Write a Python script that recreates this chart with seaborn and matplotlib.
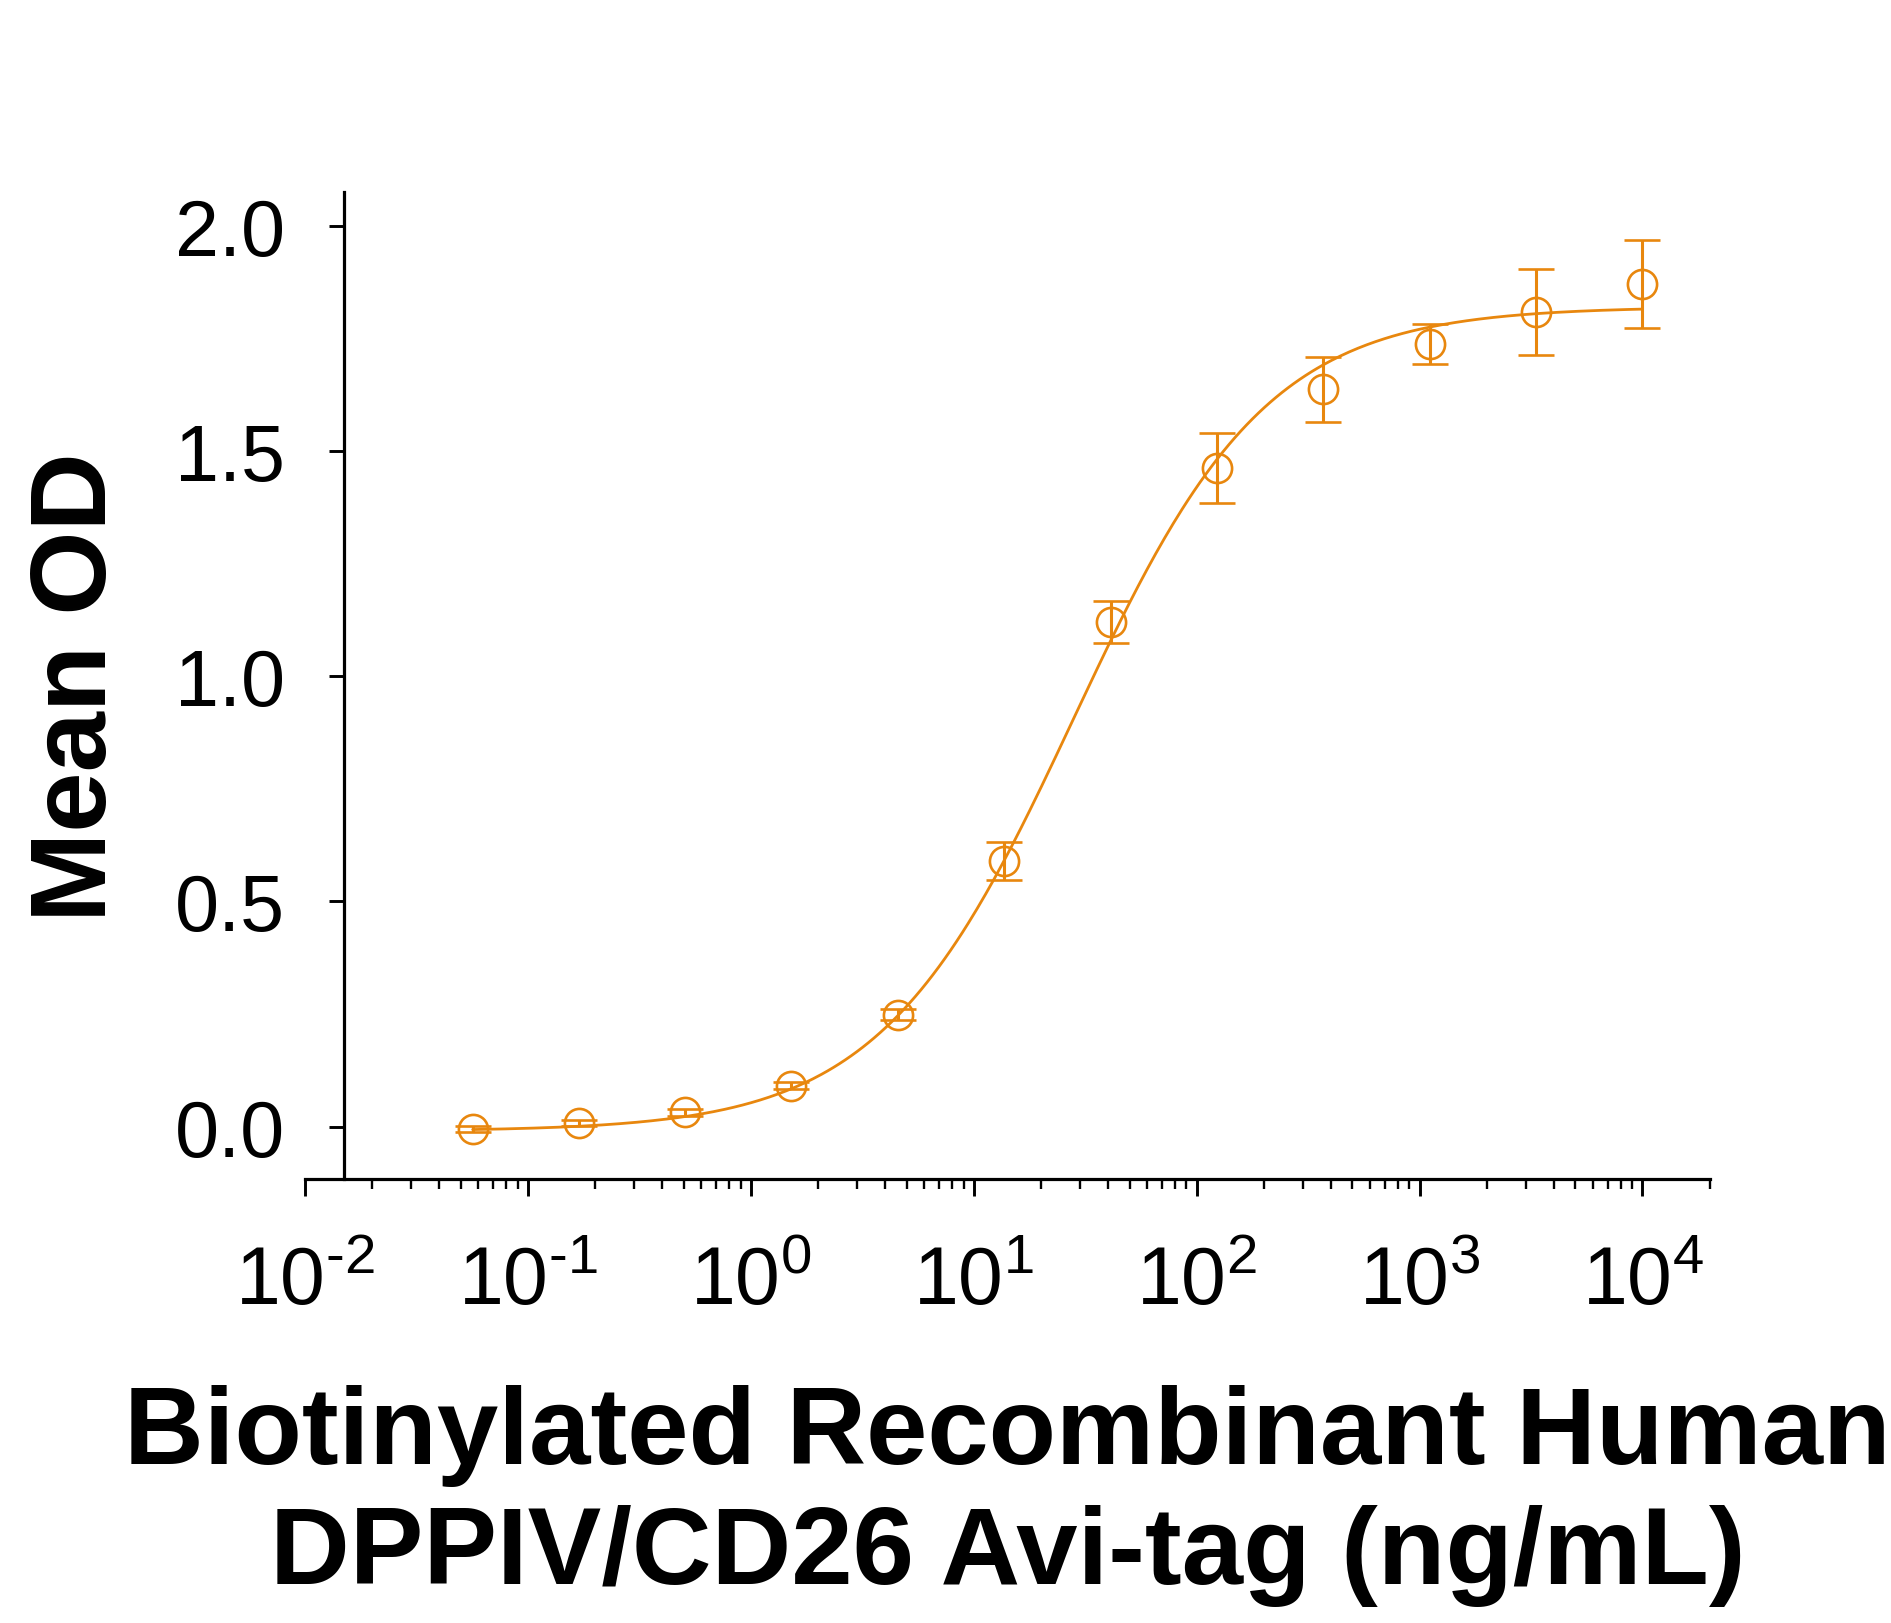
import numpy as np
import pandas as pd
import seaborn as sns
import matplotlib
matplotlib.use("Agg")
import matplotlib.pyplot as plt
from matplotlib.ticker import LogLocator, FixedLocator, NullFormatter

# data (3-fold dilution series, ng/mL)
conc = [0.0565, 0.169, 0.508, 1.52, 4.57, 13.7, 41.2, 123, 370, 1111, 3333, 10000]
mean_od = [-0.005, 0.008, 0.032, 0.091, 0.249, 0.589, 1.120, 1.462, 1.637, 1.737, 1.809, 1.870]
sd_od = [0.006, 0.006, 0.008, 0.008, 0.012, 0.042, 0.047, 0.078, 0.072, 0.045, 0.096, 0.098]

# 4PL fit parameters (estimated from the drawn curve)
fit_bottom = -0.01
fit_top = 1.82
fit_ec50 = 28.0
fit_hill = 1.0

orange = "#E8870E"

sns.set_theme(style="ticks")
plt.rcParams["font.family"] = ["Liberation Sans", "DejaVu Sans"]
plt.rcParams["mathtext.fontset"] = "custom"
plt.rcParams["mathtext.rm"] = "Liberation Sans"
plt.rcParams["axes.unicode_minus"] = False
plt.rcParams["text.color"] = "black"
plt.rcParams["xtick.color"] = "black"
plt.rcParams["ytick.color"] = "black"

df = pd.DataFrame({"conc": conc, "od": mean_od, "sd": sd_od})
xs = np.logspace(np.log10(conc[0]), np.log10(conc[-1]), 400)
curve = pd.DataFrame({"conc": xs,
                      "od": fit_bottom + (fit_top - fit_bottom) / (1 + (fit_ec50 / xs) ** fit_hill)})

fig = plt.figure(figsize=(18.91, 16.24), dpi=100)
ax = fig.add_axes([0.1613, 0.2737, 0.9043 - 0.1613, 0.8812 - 0.2737])

sns.lineplot(data=curve, x="conc", y="od", ax=ax, color=orange, linewidth=2.0)
ax.errorbar(df["conc"], df["od"], yerr=df["sd"], fmt="o", ms=21, mfc="none",
            mec=orange, mew=1.9, ecolor=orange, elinewidth=2.2, capsize=13, capthick=2.2)

ax.set_xscale("log")
ax.set_xlim(10 ** -2, 10 ** 4.303)
ax.set_ylim(-0.115, 2.075)

ax.spines["top"].set_visible(False)
ax.spines["right"].set_visible(False)
ax.spines["left"].set_position(("data", 10 ** -1.827))
for s in ("left", "bottom"):
    ax.spines[s].set_linewidth(2.3)
    ax.spines[s].set_color("black")

ax.xaxis.set_major_locator(FixedLocator([10.0 ** k for k in range(-2, 5)]))
ax.xaxis.set_minor_locator(LogLocator(base=10, subs=np.arange(2, 10), numticks=20))
ax.xaxis.set_minor_formatter(NullFormatter())
ax.set_xticklabels([r"$\mathregular{10^{\text{%s}}}$" % str(k) for k in range(-2, 5)])
ax.set_yticks([0.0, 0.5, 1.0, 1.5, 2.0])
ax.set_yticklabels(["0.0", "0.5", "1.0", "1.5", "2.0"])

ax.tick_params(axis="x", which="major", length=12, width=2.1, labelsize=58, pad=35)
ax.tick_params(axis="x", which="minor", length=7.5, width=1.7)
ax.tick_params(axis="y", which="major", length=11, width=2.1, labelsize=57, pad=31)

ax.set_xlabel("")
ax.set_ylabel("")
fig.text(0.0415, 0.577, "Mean OD", rotation=90, ha="center", va="center",
         fontsize=78, fontweight="bold")
fig.text(0.5328, 0.0985, "Biotinylated Recombinant Human", ha="center", va="baseline",
         fontsize=79.5, fontweight="bold")
fig.text(0.5328, 0.0245, "DPPIV/CD26 Avi-tag (ng/mL)", ha="center", va="baseline",
         fontsize=79.5, fontweight="bold")

fig.savefig("out.png", dpi=100, facecolor="white")
